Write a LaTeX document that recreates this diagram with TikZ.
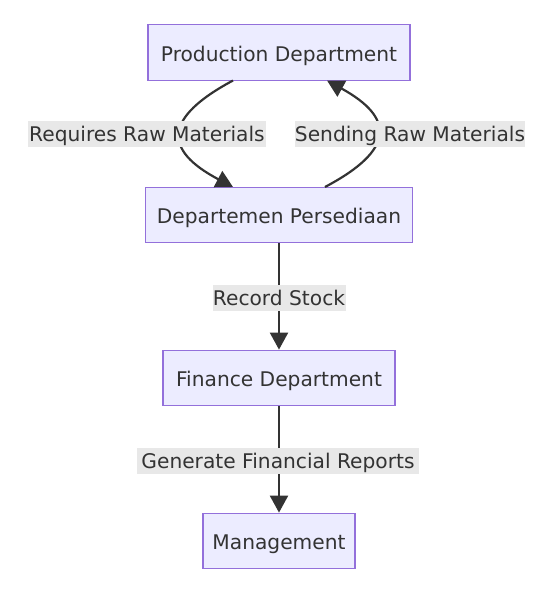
\documentclass[tikz,border=0pt]{standalone}
\usepackage{fontspec}
\setmainfont{DejaVu Sans}
\usetikzlibrary{arrows.meta}
\definecolor{nodefill}{HTML}{ECECFF}
\definecolor{nodeline}{HTML}{9370DB}
\definecolor{txt}{HTML}{333333}
\definecolor{lblbg}{HTML}{E8E8E8}
\begin{document}
\begin{tikzpicture}[x=1pt,y=-1pt,
  box/.style={draw=nodeline,fill=nodefill,line width=1.3pt,inner sep=0pt,text=txt,font=\fontsize{20.2}{24}\selectfont,minimum height=55.5pt,text height=18pt,text depth=0.5pt},
  lbl/.style={fill=lblbg,inner sep=0pt,text=txt,font=\fontsize{20.2}{24}\selectfont,minimum height=26pt,text height=16pt,text depth=0.4pt},
  conn/.style={draw=txt,line width=2.2pt,-{Triangle[length=17pt,width=18pt]}}]
\useasboundingbox (0,0) rectangle (555,589);
\fill[white] (0,0) rectangle (555,589);
\node[box,minimum width=262pt] (prod) at (279,52.5) {Production Department};
\node[box,minimum width=267pt] (pers) at (279,215) {Departemen Persediaan};
\node[box,minimum width=232pt] (fin) at (279,378) {Finance Department};
\node[box,minimum width=152pt] (mgmt) at (279,541) {Management};
\coordinate (p1) at (233,80.5);
\coordinate (p2) at (233,187);
\coordinate (q1) at (325,187);
\coordinate (q2) at (327,80.5);
\draw[conn] (p1) .. controls (163,118) and (163,150) .. (p2);
\draw[conn] (q1) .. controls (395,150) and (395,118) .. (q2);
\draw[conn] (pers.south) -- (fin.north);
\draw[conn] (fin.south) -- (mgmt.north);
\node[lbl,minimum width=238pt] (l1) at (147,134) {Requires Raw Materials};
\node[lbl,minimum width=230pt] (l2) at (410,134) {Sending Raw Materials};
\node[lbl,minimum width=133pt] (l3) at (279,297.5) {Record Stock};
\node[lbl,minimum width=282pt] (l4) at (278,460.5) {Generate Financial Reports};
\end{tikzpicture}
\end{document}
